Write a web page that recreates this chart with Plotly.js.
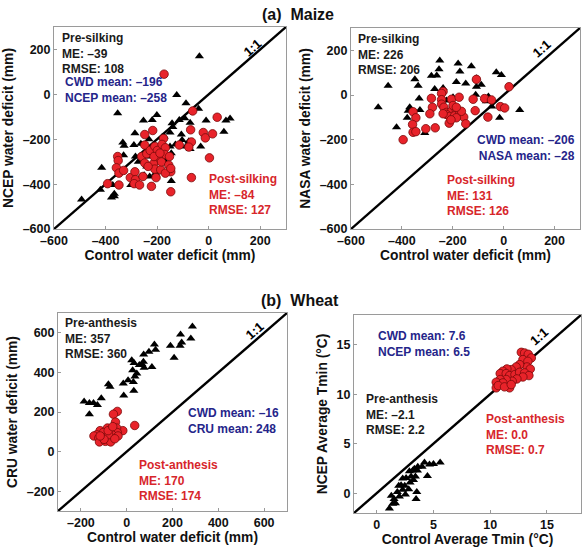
<!DOCTYPE html>
<html>
<head>
<meta charset="utf-8">
<script src="https://cdn.plot.ly/plotly-3.0.1.min.js"></script>
<style>html,body{margin:0;padding:0;background:#fff}#chart{width:583px;height:548px}</style>
</head>
<body>
<div id="chart"></div>
<script>
// ---- Panel A1: NCEP vs Control (maize) ----
const a1PreX = [-36,-124,-353,-88,-39,-253,-219,-201,-142,-114,-93,-72,-10,67,83,59,-31,-286,-333,-328,-290,-330,-263,-232,-186,-173,-150,-129,-150,-106,-103,-77,-88,-72,-273,-242,-224,-240,-250,-229,-206,-191,-173,-145,-415,-420,-372,-366,-366,-377,-493,-302,-263,-145,-284,-181,-139];
const a1PreY = [170,-3,-84,-40,-64,-117,-114,-92,-129,-114,-107,-126,-117,-117,-108,-167,-232,-173,-215,-229,-226,-271,-220,-200,-232,-188,-170,-223,-232,-179,-203,-209,-232,-244,-300,-277,-265,-321,-360,-366,-351,-271,-292,-262,-327,-425,-404,-443,-454,-460,-469,-404,-366,-386,-277,-191,-145];
const a1PostX = [-173,-62,33,-248,-217,-175,-70,-21,-13,15,-67,-77,-114,3,-67,-147,-147,-353,-351,-358,-348,-348,-330,-392,-304,-286,-284,-289,-268,-260,-248,-240,-227,-209,-199,-181,-168,-170,-194,-214,-209,-186,-168,-204,-222,-183,-152,-155,-147,-255,-248,-235,-212,-189];
const a1PostY = [90,-74,-102,-179,-161,-197,-158,-170,-194,-176,-212,-235,-226,-283,-371,-345,-434,-277,-295,-327,-351,-404,-339,-398,-371,-345,-380,-398,-404,-277,-226,-265,-250,-232,-250,-223,-238,-268,-292,-309,-333,-336,-351,-371,-410,-301,-277,-315,-330,-366,-306,-321,-277,-262];

// ---- Panel A2: NASA vs Control (maize) ----
const a2PreX = [-251,-254,-179,-172,-127,-284,-263,-349,-454,-336,-271,-238,-186,-149,-107,-107,-88,-29,-9,-332,-110,-60,-68,-47,63,-16,-493,-369,-375,-329,-379,-421,-310,-225,-199];
const a2PreY = [155,115,141,105,129,86,87,70,41,41,27,31,58,52,75,37,46,102,90,-16,1,-7,-28,-52,-67,-102,-55,-55,-70,-67,-102,-144,-170,-25,-10];
const a2PostX = [-107,21,-238,-244,-284,-244,-205,-175,-120,-75,-48,-280,-244,-235,-290,-225,-204,-186,-225,-212,-193,-172,-157,-166,-199,-186,-112,-62,-13,4,-356,-345,-358,-356,-345,-306,-269,-214,-149,-395,-238,-186,-207];
const a2PostY = [70,37,16,7,-15,-21,-19,-10,-19,-16,-22,-55,-41,-55,-84,-78,-71,-70,-87,-96,-93,-78,-99,-73,-47,-55,-70,-99,-52,-58,-75,-102,-132,-167,-164,-151,-147,-126,-129,-200,-84,-102,-111];

// ---- Panel B1: CRU vs Control (wheat) ----
const b1PreX = [287,280,235,240,233,191,207,121,126,110,97,74,73,67,76,55,32,26,44,36,29,31,6,-15,-13,-80,-73,-111,-186,-163,-145,-128,-163,22];
const b1PreY = [632,571,592,551,535,535,474,541,515,427,504,491,454,441,424,437,447,411,394,380,352,307,360,344,283,340,327,270,253,246,246,236,189,461];
const b1PostX = [-41,-58,-49,35,-17,-44,-58,-41,-84,-116,-131,-143,-122,-119,-96,-93,-73,-70,-64,-38,-87,-102,-79,-52,-99,-116,-81,-61];
const b1PostY = [203,189,149,132,106,119,106,96,119,106,85,79,69,49,75,52,69,49,85,79,96,96,85,65,62,79,106,126];

// ---- Panel B2: NCEP Tmin vs Control (wheat) ----
const b2PreX = [5.59,5.0,4.65,4.21,4.0,3.62,3.32,3.18,3.59,2.88,4.47,3.41,3.03,2.59,2.29,3.24,2.47,1.94,2.29,2.82,1.82,3.53,2.53,3.47,2.0,1.29,1.53,1.41,1.65,1.12,2.15,2.94];
const b2PreY = [3.09,2.95,2.89,3.09,2.68,2.68,2.48,2.28,2.28,2.21,1.74,1.68,1.68,1.54,1.48,1.34,0.74,0.74,0.34,0.40,0.13,0.13,-0.13,-0.60,-0.34,-0.27,-0.60,-1.07,-1.01,-1.54,0.81,1.07];
const b2PostX = [12.74,13.03,13.35,13.62,12.88,13.32,13.24,13.53,12.59,12.29,11.85,11.47,11.12,10.88,11.41,11.71,12.18,12.59,13.03,13.41,12.88,12.35,11.94,11.41,10.88,10.53,11.12,10.53,11.71,10.71,11.26,11.85];
const b2PostY = [14.23,14.16,14.03,13.66,13.49,13.32,12.75,12.55,12.99,12.75,12.48,12.55,12.32,12.08,12.08,11.88,11.98,12.21,12.15,11.88,11.74,11.54,11.31,11.48,11.48,11.21,11.14,10.64,10.64,10.87,10.74,10.97];

// axis ranges and ticks
const rangeA = [-600, 300];
const ticksA = [-600, -400, -200, 0, 200];
const rangeB1 = [-300, 700];
const ticksB1x = [-200, 0, 200, 400, 600];
const ticksB1y = [-200, 0, 200, 400, 600];
const rangeB2 = [-2, 18];
const ticksB2x = [0, 5, 10, 15];
const ticksB2y = [0, 5, 10, 15];

// text
const axisTitles = {
  x1: 'Control water deficit (mm)', y1: 'NCEP water deficit (mm)',
  x2: 'Control water deficit (mm)', y2: 'NASA water deficit (mm)',
  x3: 'Control water deficit (mm)', y3: 'CRU water deficit (mm)',
  x4: 'Control Average Tmin (°C)', y4: 'NCEP Average Tmin (°C)'
};

const FONT = '"Liberation Sans", Arial, sans-serif';
const RED = '#d7262b';
const BLUE = '#25258a';
const TXT = '#1a1a1a';

function tri(x, y, xa, ya) {
  return {x, y, xaxis: xa, yaxis: ya, type: 'scatter', mode: 'markers', hoverinfo: 'skip',
    marker: {symbol: 'triangle-up', size: 8, color: '#000', line: {width: 0}}};
}
function circ(x, y, xa, ya) {
  return {x, y, xaxis: xa, yaxis: ya, type: 'scatter', mode: 'markers', hoverinfo: 'skip',
    marker: {symbol: 'circle', size: 8.5, color: '#e8232a', line: {width: 0.8, color: '#7a0a0a'}}};
}
function oneToOne(r, xa, ya) {
  return {x: [r[0], r[1]], y: [r[0], r[1]], xaxis: xa, yaxis: ya, type: 'scatter', mode: 'lines',
    hoverinfo: 'skip', line: {color: '#000', width: 2.4}};
}

const data = [
  oneToOne(rangeA, 'x', 'y'), tri(a1PreX, a1PreY, 'x', 'y'), circ(a1PostX, a1PostY, 'x', 'y'),
  oneToOne(rangeA, 'x2', 'y2'), tri(a2PreX, a2PreY, 'x2', 'y2'), circ(a2PostX, a2PostY, 'x2', 'y2'),
  oneToOne(rangeB1, 'x3', 'y3'), tri(b1PreX, b1PreY, 'x3', 'y3'), circ(b1PostX, b1PostY, 'x3', 'y3'),
  oneToOne(rangeB2, 'x4', 'y4'), tri(b2PreX, b2PreY, 'x4', 'y4'), circ(b2PostX, b2PostY, 'x4', 'y4')
];

function ax(domain, range, ticks, title, anchor, isY) {
  return {
    domain, range, tickvals: ticks, ticktext: ticks.map(v => v < 0 ? '\u2013' + Math.abs(v) : String(v)),
    anchor, showgrid: false, zeroline: false, showline: true, mirror: true,
    linecolor: '#9a9a9a', linewidth: 1, ticks: 'inside', ticklen: 3, tickcolor: '#9a9a9a',
    tickfont: {family: FONT, size: 12.5, color: '#111', weight: 'bold'},
    title: {text: title, font: {family: FONT, size: 13.8, color: '#111', weight: 'bold'}, standoff: isY ? 5 : 3},
    fixedrange: true
  };
}

const layout = {
  width: 583, height: 548,
  margin: {l: 0, r: 0, t: 0, b: 0},
  paper_bgcolor: '#fff', plot_bgcolor: '#fff',
  showlegend: false,
  font: {family: FONT},
  xaxis: ax([0.0926, 0.4906], rangeA, ticksA, axisTitles.x1, 'y', false),
  yaxis: ax([0.5821, 0.9507], rangeA, ticksA, axisTitles.y1, 'x', true),
  xaxis2: ax([0.602, 0.9949], rangeA, ticksA, axisTitles.x2, 'y2', false),
  yaxis2: ax([0.5821, 0.9489], rangeA, ticksA, axisTitles.y2, 'x2', true),
  xaxis3: ax([0.0995, 0.4923], rangeB1, ticksB1x, axisTitles.x3, 'y3', false),
  yaxis3: ax([0.0675, 0.4288], rangeB1, ticksB1y, axisTitles.y3, 'x3', true),
  xaxis4: ax([0.6072, 0.9966], rangeB2, ticksB2x, axisTitles.x4, 'y4', false),
  yaxis4: ax([0.0639, 0.4252], rangeB2, ticksB2y, axisTitles.y4, 'x4', true),
  annotations: []
};

function note(xr, yr, x, y, text, color, xanchor) {
  return {xref: xr + ' domain', yref: yr + ' domain', x, y, text, showarrow: false,
    xanchor: xanchor || 'left', yanchor: 'top', align: xanchor === 'right' ? 'right' : 'left',
    font: {family: FONT, size: 12, color, weight: 'bold'}};
}
function oneLabel(xr, yr, x, y) {
  return {xref: xr, yref: yr, x, y, text: '1:1', showarrow: false, textangle: -41,
    font: {family: FONT, size: 13, color: '#000', weight: 'bold'}};
}
const A = layout.annotations;
// panel titles
A.push({xref: 'paper', yref: 'paper', x: 0.512, y: 1 - 14/548, text: '(a)  Maize', showarrow: false,
  xanchor: 'center', yanchor: 'middle', font: {family: FONT, size: 16, color: '#111', weight: 'bold'}});
A.push({xref: 'paper', yref: 'paper', x: 0.514, y: 1 - 300/548, text: '(b)  Wheat', showarrow: false,
  xanchor: 'center', yanchor: 'middle', font: {family: FONT, size: 16, color: '#111', weight: 'bold'}});
// panel 1
A.push(note('x', 'y', 0.026, 0.99, 'Pre-silking<br>ME: \u201339<br>RMSE: 108', TXT));
A.push(note('x', 'y', 0.04, 0.77, 'CWD mean: \u2013196<br>NCEP mean: \u2013258', BLUE));
A.push(note('x', 'y', 0.66, 0.29, 'Post-silking<br>ME: \u201384<br>RMSE: 127', RED));
A.push(oneLabel('x', 'y', 171, 209));
// panel 2
A.push(note('x2', 'y2', 0.02, 0.99, 'Pre-silking<br>ME: 226<br>RMSE: 206', TXT));
A.push(note('x2', 'y2', 0.985, 0.49, 'CWD mean: \u2013206<br>NASA mean: \u201328', BLUE, 'right'));
A.push(note('x2', 'y2', 0.41, 0.29, 'Post-silking<br>ME: 131<br>RMSE: 126', RED));
A.push(oneLabel('x2', 'y2', 149, 209));
// panel 3
A.push(note('x3', 'y3', 0.02, 0.995, 'Pre-anthesis<br>ME: 357<br>RMSE: 360', TXT));
A.push(note('x3', 'y3', 0.56, 0.54, 'CWD mean: \u201316<br>CRU mean: 248', BLUE));
A.push(note('x3', 'y3', 0.345, 0.28, 'Post-anthesis<br>ME: 170<br>RMSE: 174', RED));
A.push(oneLabel('x3', 'y3', 560, 613));
// panel 4
A.push(note('x4', 'y4', 0.097, 0.94, 'CWD mean: 7.6<br>NCEP mean: 6.5', BLUE));
A.push(note('x4', 'y4', 0.044, 0.62, 'Pre-anthesis<br>ME: \u20132.1<br>RMSE: 2.2', TXT));
A.push(note('x4', 'y4', 0.573, 0.52, 'Post-anthesis<br>ME: 0.0<br>RMSE: 0.7', RED));
A.push(oneLabel('x4', 'y4', 14.3, 15.8));

Plotly.newPlot('chart', data, layout, {staticPlot: true, displayModeBar: false});
</script>
</body>
</html>
